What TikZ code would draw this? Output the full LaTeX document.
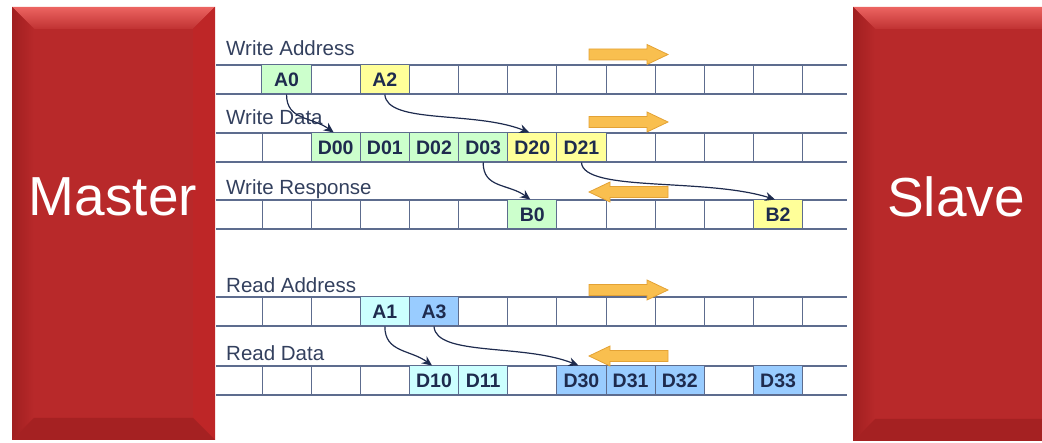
\documentclass[tikz,border=0pt]{standalone}
\usepackage{fontspec}
\setmainfont{Liberation Sans}
\usetikzlibrary{arrows.meta}
\definecolor{blk}{HTML}{B8292A}
\definecolor{blkhi}{HTML}{EC6461}
\definecolor{blklo}{HTML}{A01F20}
\definecolor{grid}{HTML}{5D6C8E}
\definecolor{ink}{HTML}{1E2B4E}
\definecolor{txt}{HTML}{33405E}
\definecolor{wgreen}{HTML}{CCFFCC}
\definecolor{wyellow}{HTML}{FFFF99}
\definecolor{rcyan}{HTML}{CCFFFF}
\definecolor{rblue}{HTML}{99CCFF}
\definecolor{flowfill}{HTML}{F9BF4F}
\definecolor{flowedge}{HTML}{E3A235}
\tikzset{
  >={Stealth[length=10pt,width=9pt]},
  cellbox/.style={draw=grid,line width=1pt,minimum width=49.15pt,minimum height=29pt,inner sep=0pt,font=\fontsize{19.5}{22}\selectfont\bfseries,text=ink},
  lab/.style={anchor=base west,inner sep=0pt,font=\fontsize{20.5}{24}\selectfont,text=txt},
  blocklab/.style={text=white,inner sep=0pt,font=\fontsize{55}{60}\selectfont},
  arr/.style={->,draw=ink,line width=1.2pt},
  flow/.style={fill=flowfill,draw=flowedge,line width=0.8pt},
  busarrow/.pic={\path[flow] (0,-5.5) -- (58,-5.5) -- (58,-10) -- (79,0) -- (58,10) -- (58,5.5) -- (0,5.5) -- cycle;},
}
\begin{document}
\begin{tikzpicture}[x=1pt,y=-1pt]
\useasboundingbox (0,0) rectangle (1042,443);
% Master block
\fill[blk] (12,7) rectangle (215,440);
\shade[top color=blkhi,bottom color=blk!85!blkhi] (12,7) -- (215,7) -- (193,29) -- (34,29) -- cycle;
\shade[left color=blklo,right color=blk] (12,7) -- (34,29) -- (34,418) -- (12,440) -- cycle;
\fill[blk!92!red] (215,7) -- (193,29) -- (193,418) -- (215,440) -- cycle;
\fill[blklo!80!blk] (12,440) -- (34,418) -- (193,418) -- (215,440) -- cycle;
\node[blocklab] (master) at (113,197) {Master};
% Slave block
\begin{scope}
\clip (0,0) rectangle (1042,443);
\fill[blk] (853,7) rectangle (1070,441);
\shade[top color=blkhi,bottom color=blk!85!blkhi] (853,7) -- (1070,7) -- (1048,29) -- (875,29) -- cycle;
\shade[left color=blklo,right color=blk] (853,7) -- (875,29) -- (875,419) -- (853,441) -- cycle;
\fill[blklo!80!blk] (853,441) -- (875,419) -- (1048,419) -- (1070,441) -- cycle;
\end{scope}
\node[blocklab] (slave) at (956,197) {Slave};
% Channel rows
\foreach \t in {65,133,200,297,366}{
  \draw[grid,line width=1.2pt] (216,\t) -- (847,\t) (216,\t+29) -- (847,\t+29);
  \foreach \k in {0,...,11} \draw[grid,line width=1pt] ({262+49.15*\k},\t) -- ++(0,29);
}
\node[lab] (lwa) at (226,56) {Write Address};
\node[lab] (lwd) at (226,125) {Write Data};
\node[lab] (lwr) at (226,195) {Write Response};
\node[lab] (lra) at (226,293) {Read Address};
\node[lab] (lrd) at (226,361) {Read Data};
% Transfers
\foreach \n/\i/\c in {A0/1/wgreen,A2/3/wyellow}
  \node[cellbox,fill=\c] (\n) at ({237.4+49.15*\i},79.5) {\n};
\foreach \n/\i/\c in {D00/2/wgreen,D01/3/wgreen,D02/4/wgreen,D03/5/wgreen,D20/6/wyellow,D21/7/wyellow}
  \node[cellbox,fill=\c] (\n) at ({237.4+49.15*\i},147.5) {\n};
\foreach \n/\i/\c in {B0/6/wgreen,B2/11/wyellow}
  \node[cellbox,fill=\c] (\n) at ({237.4+49.15*\i},214.5) {\n};
\foreach \n/\i/\c in {A1/3/rcyan,A3/4/rblue}
  \node[cellbox,fill=\c] (\n) at ({237.4+49.15*\i},311.5) {\n};
\foreach \n/\i/\c in {D10/4/rcyan,D11/5/rcyan,D30/7/rblue,D31/8/rblue,D32/9/rblue,D33/11/rblue}
  \node[cellbox,fill=\c] (\n) at ({237.4+49.15*\i},380.5) {\n};
% Dependencies
\draw[arr] (A0.south) .. controls +(0,26) and +(-22,-16) .. ([xshift=-2pt]D00.north);
\draw[arr] (A2.south) .. controls +(2,30) and +(-55,-22) .. ([xshift=-3pt]D20.north);
\draw[arr] (D03.south) .. controls +(0,26) and +(-22,-16) .. ([xshift=-2pt]B0.north);
\draw[arr] (D21.south) .. controls +(2,30) and +(-70,-22) .. ([xshift=-3pt]B2.north);
\draw[arr] (A1.south) .. controls +(0,26) and +(-22,-16) .. ([xshift=-2pt]D10.north);
\draw[arr] (A3.south) .. controls +(2,30) and +(-55,-22) .. ([xshift=-3pt]D30.north);
% Direction of each channel
\pic at (589,54.5) {busarrow};
\pic at (589,122) {busarrow};
\pic[xscale=-1] at (668,192) {busarrow};
\pic at (589,290) {busarrow};
\pic[xscale=-1] at (668,356) {busarrow};
\end{tikzpicture}
\end{document}
